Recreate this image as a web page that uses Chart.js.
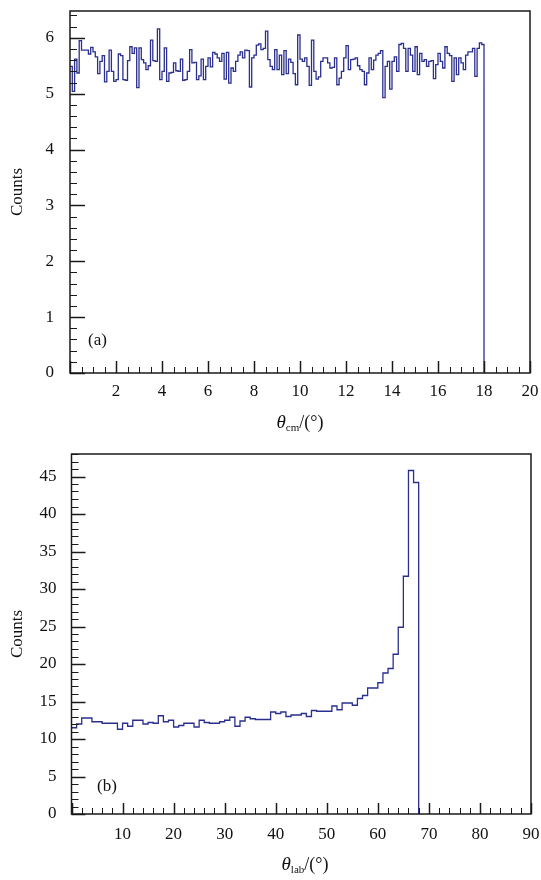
<!DOCTYPE html>
<html>
<head>
<meta charset="utf-8">
<script src="https://cdn.jsdelivr.net/npm/chart.js@4"></script>
<style>
  body { margin: 0; background: #fff; }
  #wrap { position: relative; width: 541px; height: 880px; font-family: "Liberation Serif", serif; color: #111; }
  .panel { position: absolute; left: 0; width: 541px; height: 440px; }
  .xt { position: absolute; font-size: 18px; transform: translate(-50%, -50%); white-space: nowrap; }
  .xt i { font-size: 19px; }
  .xt sub { font-size: 11px; vertical-align: -3px; }
  .tag { position: absolute; font-size: 17px; }
</style>
</head>
<body>
<div id="wrap">
  <div class="panel" style="top:0"><canvas id="chartA" width="541" height="440"></canvas></div>
  <div class="panel" style="top:440px"><canvas id="chartB" width="541" height="440"></canvas></div>
  <div class="xt" style="left:300px; top:422px"><i>θ</i><sub>cm</sub>/(°)</div>
  <div class="xt" style="left:305px; top:864px"><i>θ</i><sub>lab</sub>/(°)</div>
  <div class="tag" style="left:88px; top:330px">(a)</div>
  <div class="tag" style="left:97px; top:776px">(b)</div>
</div>
<script>
// panel (a): counts per 0.1 deg bin, theta_cm 0..18
var countsA = [
  5.49, 5.04, 5.62, 5.37, 5.95, 5.78, 5.78, 5.78, 5.71, 5.83,
  5.75, 5.66, 5.36, 5.58, 5.68, 5.21, 5.40, 5.78, 5.40, 5.22,
  5.25, 5.71, 5.68, 5.25, 5.24, 5.59, 5.84, 5.72, 5.82, 5.11,
  5.82, 5.61, 5.55, 5.43, 5.50, 5.96, 5.59, 5.58, 6.16, 5.25,
  5.40, 5.82, 5.22, 5.37, 5.38, 5.55, 5.41, 5.40, 5.62, 5.24,
  5.25, 5.40, 5.79, 5.55, 5.56, 5.25, 5.32, 5.62, 5.25, 5.49,
  5.64, 5.48, 5.74, 5.71, 5.64, 5.58, 5.72, 5.26, 5.74, 5.19,
  5.46, 5.40, 5.58, 5.69, 5.75, 5.64, 5.78, 5.77, 5.12, 5.64,
  5.69, 5.87, 5.89, 5.79, 5.81, 6.12, 5.61, 5.49, 5.43, 5.79,
  5.43, 5.69, 5.34, 5.77, 5.36, 5.62, 5.56, 5.36, 5.16, 6.05,
  5.62, 5.58, 5.64, 5.49, 5.15, 5.96, 5.40, 5.26, 5.30, 5.58,
  5.64, 5.64, 5.55, 5.46, 5.47, 5.64, 5.16, 5.28, 5.40, 5.64,
  5.86, 5.43, 5.61, 5.62, 5.64, 5.50, 5.43, 5.40, 5.16, 5.37,
  5.64, 5.43, 5.60, 5.69, 5.72, 5.77, 4.93, 5.49, 5.58, 5.08,
  5.58, 5.66, 5.40, 5.88, 5.90, 5.81, 5.40, 5.81, 5.69, 5.40,
  5.84, 5.34, 5.72, 5.58, 5.61, 5.49, 5.58, 5.59, 5.27, 5.52,
  5.72, 5.58, 5.46, 5.84, 5.72, 5.68, 5.22, 5.64, 5.34, 5.64,
  5.55, 5.43, 5.69, 5.75, 5.75, 5.81, 5.31, 5.81, 5.91, 5.88
];
var binA = 0.1;
var xTicksA = [2, 4, 6, 8, 10, 12, 14, 16, 18, 20];
var yTicksA = [0, 1, 2, 3, 4, 5, 6];

// panel (b): counts per 1 deg bin, theta_lab 0..68
var countsB = [
  11.5, 12.0, 12.8, 12.8, 12.3, 12.3, 12.1, 12.1, 12.1, 11.3,
  12.1, 11.7, 12.5, 12.5, 12.0, 12.2, 12.1, 13.1, 12.3, 12.5,
  11.6, 11.8, 12.1, 12.1, 11.6, 12.5, 12.2, 12.1, 12.1, 12.3,
  12.5, 12.9, 11.7, 12.4, 12.9, 12.7, 12.6, 12.6, 12.6, 13.6,
  13.4, 13.6, 13.0, 13.2, 13.2, 13.4, 13.0, 13.8, 13.7, 13.7,
  13.7, 14.4, 13.9, 14.8, 14.8, 14.5, 15.4, 15.8, 16.8, 16.8,
  17.5, 18.8, 19.4, 21.3, 24.9, 31.7, 45.8, 44.2
];
var binB = 1;
var xTicksB = [10, 20, 30, 40, 50, 60, 70, 80, 90];
var yTicksB = [0, 5, 10, 15, 20, 25, 30, 35, 40, 45];

var lineColor = '#2a2f8e';
var tickFont = { family: 'Liberation Serif', size: 17 };

function histPoints(width, counts) {
  var pts = [];
  for (var i = 0; i < counts.length; i++) {
    pts.push({ x: i * width, y: counts[i] });
  }
  pts.push({ x: counts.length * width, y: 0 });
  return pts;
}

// ROOT style frame: ticks drawn inside the box, left and bottom only
var frameTicks = {
  id: 'frameTicks',
  afterDatasetsDraw: function(chart, args, o) {
    var ctx = chart.ctx, a = chart.chartArea;
    var x = chart.scales.x, y = chart.scales.y;
    ctx.save();
    ctx.strokeStyle = '#1a1a1a';
    var n = Math.round((x.max - x.min) / o.xMinor);
    for (var i = 0; i <= n; i++) {
      var v = x.min + i * o.xMinor;
      var major = i % o.xEvery === 0;
      var px = Math.round(x.getPixelForValue(v)) + 0.5;
      ctx.lineWidth = major ? 1.5 : 1;
      ctx.beginPath();
      ctx.moveTo(px, a.bottom);
      ctx.lineTo(px, a.bottom - (major ? o.xMaj : o.xMin));
      ctx.stroke();
    }
    var m = Math.floor((y.max - y.min) / o.yMinor + 1e-6);
    for (var j = 0; j <= m; j++) {
      var w = y.min + j * o.yMinor;
      var majorY = j % o.yEvery === 0;
      var py = Math.round(y.getPixelForValue(w)) + 0.5;
      ctx.lineWidth = majorY ? 1.5 : 1;
      ctx.beginPath();
      ctx.moveTo(a.left, py);
      ctx.lineTo(a.left + (majorY ? o.yMaj : o.yMin), py);
      ctx.stroke();
    }
    ctx.lineWidth = 1.5;
    ctx.strokeRect(a.left, a.top, a.right - a.left, a.bottom - a.top);
    ctx.restore();
  }
};

function noPad(s) {
  s.paddingLeft = 0; s.paddingRight = 0; s.paddingTop = 0; s.paddingBottom = 0;
}

function makeChart(id, counts, width, xMax, yMax, xTicks, yTicks, lay) {
  return new Chart(document.getElementById(id), {
    type: 'line',
    data: {
      datasets: [{
        data: histPoints(width, counts),
        stepped: true,
        borderColor: lineColor,
        borderWidth: 1.3,
        pointRadius: 0,
        fill: false
      }]
    },
    options: {
      responsive: false,
      animation: false,
      devicePixelRatio: 1,
      layout: { padding: { top: lay.top, right: lay.right, left: 0, bottom: 0 } },
      plugins: {
        legend: { display: false },
        tooltip: { enabled: false },
        frameTicks: lay.ticks
      },
      scales: {
        x: {
          type: 'linear', min: 0, max: xMax,
          grid: { display: false, drawTicks: false },
          border: { display: false },
          afterBuildTicks: function(s) { s.ticks = xTicks.map(function(v) { return { value: v }; }); },
          afterFit: function(s) { s.height = lay.xh; noPad(s); },
          ticks: { autoSkip: false, maxRotation: 0, padding: lay.xpad, font: tickFont, color: '#111' }
        },
        y: {
          type: 'linear', min: 0, max: yMax,
          grid: { display: false, drawTicks: false },
          border: { display: false },
          afterBuildTicks: function(s) { s.ticks = yTicks.map(function(v) { return { value: v }; }); },
          afterFit: function(s) { s.width = lay.yw; noPad(s); },
          ticks: { autoSkip: false, padding: lay.ypad, font: tickFont, color: '#111' },
          title: { display: true, text: 'Counts', font: { family: 'Liberation Serif', size: 17 }, color: '#111', padding: { top: 7 } }
        }
      }
    },
    plugins: [frameTicks]
  });
}

makeChart('chartA', countsA, binA, 20, 6.48, xTicksA, yTicksA, {
  top: 11, right: 11, xh: 67, yw: 70, xpad: 8, ypad: 16,
  ticks: { xMinor: 0.5, xEvery: 4, xMaj: 12, xMin: 6, yMinor: 0.2, yEvery: 5, yMaj: 15, yMin: 7 }
});
makeChart('chartB', countsB, binB, 90, 48, xTicksB, yTicksB, {
  top: 14, right: 10, xh: 66, yw: 71.5, xpad: 10, ypad: 15,
  ticks: { xMinor: 2, xEvery: 5, xMaj: 11, xMin: 6, yMinor: 1, yEvery: 5, yMaj: 14, yMin: 7 }
});
</script>
</body>
</html>
